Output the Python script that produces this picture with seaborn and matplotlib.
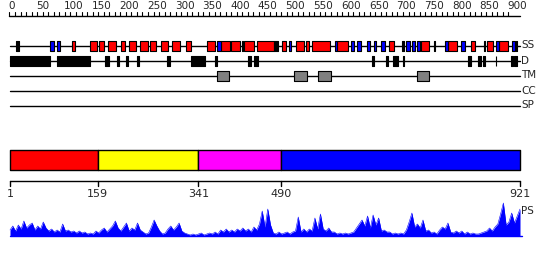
import matplotlib
matplotlib.use("Agg")
import matplotlib.pyplot as plt
import seaborn as sns
import pandas as pd

sns.set_style("white")
plt.rcParams['font.family'] = ['DejaVu Sans']

# ---------------- data ----------------
seq_len = 921
ruler_major = list(range(0, 901, 50))
ruler_minor = list(range(0, 901, 10))

ss_helix = [(112, 119), (145, 158), (161, 171), (177, 192), (201, 209), (215, 229),
            (236, 250), (253, 265), (273, 286), (293, 308), (319, 328), (356, 371),
            (382, 397), (399, 415), (424, 441), (447, 478), (491, 498), (517, 531),
            (535, 541), (546, 579), (591, 611), (684, 693), (742, 757), (792, 807),
            (832, 839), (862, 872), (883, 899)]
ss_strand = [(73, 81), (85, 91), (374, 382), (504, 508), (587, 591), (616, 622),
             (627, 635), (645, 650), (657, 661), (670, 678), (716, 722), (727, 731),
             (735, 740), (785, 792), (815, 821), (878, 883), (907, 912)]
ss_other = [(11, 18), (419, 421), (478, 484), (709, 711), (766, 768), (856, 857),
            (913, 916)]

disorder = [(1, 73), (85, 88), (90, 146), (173, 180), (194, 198), (210, 214),
            (230, 234), (285, 290), (327, 352), (370, 374), (431, 436), (442, 448),
            (654, 658), (680, 682), (692, 701), (710, 712), (827, 833), (846, 850),
            (854, 858), (877, 878), (904, 908), (910, 916)]

tm = [(375, 396), (514, 536), (556, 580), (736, 756)]

track_names = ["SS", "D", "TM", "CC", "SP"]

domain_bounds = [1, 159, 341, 490, 921]
domain_colors = ["#ff0000", "#ffff00", "#ff00ff", "#0000ff"]

ps_step = 5
ps_vals = [6, 10, 5, 11, 7, 15, 8, 11, 13, 6, 10, 7, 14, 8, 5, 7, 4, 6, 4, 12,
           5, 6, 4, 5, 3, 5, 3, 4, 2, 3, 2, 5, 3, 6, 8, 4, 7, 10, 15, 8,
           5, 9, 13, 5, 8, 6, 13, 6, 4, 2, 3, 9, 16, 10, 5, 2, 3, 7, 10, 6,
           9, 13, 5, 3, 2, 1, 2, 1, 2, 3, 1, 2, 3, 2, 4, 2, 6, 4, 7, 4,
           6, 4, 7, 5, 8, 5, 7, 4, 9, 6, 12, 25, 9, 27, 11, 3, 2, 4, 2, 3,
           4, 2, 4, 5, 19, 4, 7, 4, 7, 5, 18, 7, 22, 7, 5, 8, 4, 4, 2, 3,
           2, 3, 2, 3, 4, 8, 12, 16, 10, 20, 8, 21, 11, 18, 5, 6, 4, 4, 2, 3,
           2, 3, 2, 6, 14, 23, 9, 12, 8, 16, 5, 6, 3, 4, 2, 6, 9, 7, 13, 4,
           3, 5, 3, 5, 2, 4, 2, 3, 2, 2, 3, 4, 5, 8, 5, 9, 12, 22, 33, 11,
           14, 23, 13, 20, 27]
ps_pos = list(range(1, seq_len + 1, ps_step))

# ---------------- layout (pixel-like vertical coordinates) ----------------
W, H = 550, 260
fig = plt.figure(figsize=(W / 100, H / 100), dpi=100)
ax = fig.add_axes([0, 0, 1, 1])
px_per_res = 510 / 920
ax.set_xlim(1 - 10 / px_per_res, 1 + (W - 10) / px_per_res)
ax.set_ylim(H, 0)
ax.axis("off")

def res(px):
    return px / px_per_res

# top ruler
ruler_y = 15.5
ax.plot([0, seq_len], [ruler_y, ruler_y], color="black", lw=1.0)
for t in ruler_minor:
    ax.plot([t, t], [ruler_y, ruler_y - 3.5], color="black", lw=0.8)
for t in ruler_major:
    ax.text(t - res(1), 1, str(t), ha="left", va="top", fontsize=7.5)

# tracks
track_y = [45.5, 60.5, 75.5, 90.5, 105.5]
box_h = 10
for name, y in zip(track_names, track_y):
    ax.plot([1, seq_len], [y, y], color="black", lw=1.0, zorder=1)
    ax.text(seq_len + res(1), y, name, ha="left", va="center", fontsize=7.5)

def boxes(spans, y, color, lw=0.8):
    ax.broken_barh([(s, e - s) for s, e in spans], (y - box_h / 2, box_h),
                   facecolors=color, edgecolors="black", linewidth=lw, zorder=2)

boxes(ss_helix, track_y[0], "#ff0000")
boxes(ss_strand, track_y[0], "#0000ff")
boxes(ss_other, track_y[0], "black")
boxes(disorder, track_y[1], "black")
boxes(tm, track_y[2], "#808080")

# domain bar
dom_y0, dom_h = 150, 20
ax.broken_barh([(domain_bounds[i], domain_bounds[i + 1] - domain_bounds[i])
                for i in range(len(domain_colors))], (dom_y0, dom_h),
               facecolors=domain_colors, edgecolors="black", linewidth=1.0, zorder=2)

axis_y = 180.5
ax.plot([1, seq_len], [axis_y, axis_y], color="black", lw=1.0)
for b in domain_bounds:
    ax.plot([b, b], [axis_y, axis_y + 5], color="black", lw=1.0)
    ax.text(b, 189, str(b), ha="center", va="top", fontsize=8)

# PS profile
ps_base = 236
ps_scale = 1.0
df = pd.DataFrame({"pos": ps_pos, "y": [ps_base - v * ps_scale for v in ps_vals]})
ax.fill_between(df["pos"], ps_base, df["y"], color="#0000ff", lw=0, zorder=2)
sns.lineplot(data=df, x="pos", y="y", ax=ax, color="#0000ff", lw=0.4, zorder=3)
ax.plot([1, seq_len + res(2)], [ps_base, ps_base], color="#0000ff", lw=1.0)
ax.text(seq_len + res(1), 211, "PS", ha="left", va="center", fontsize=7.5)
ax.set_xlim(1 - 10 / px_per_res, 1 + (W - 10) / px_per_res)
ax.set_ylim(H, 0)
ax.axis("off")

fig.savefig("out.png", dpi=100)
